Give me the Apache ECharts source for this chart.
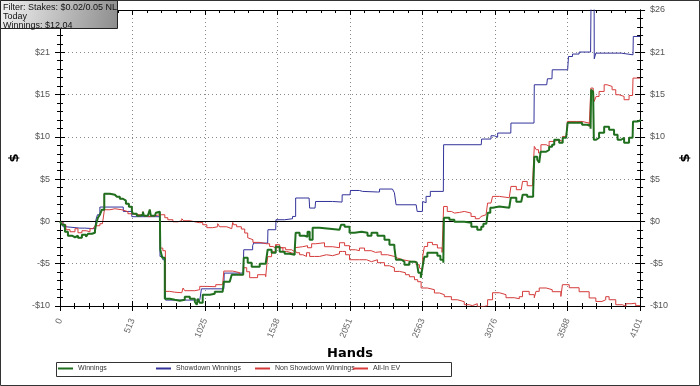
<!DOCTYPE html>
<html><head><meta charset="utf-8">
<script src="https://cdn.jsdelivr.net/npm/echarts@6/dist/echarts.min.js"></script>
<style>html,body{margin:0;padding:0;background:#fff}#c{width:700px;height:386px}</style>
</head><body><div id="c"></div>
<script>
// ---------- data (hands, dollars) ----------
const seriesNames = ['Winnings', 'Showdown Winnings', 'Non Showdown Winnings', 'All-In EV'];
const xTickLabels = ['0', '513', '1025', '1538', '2051', '2563', '3076', '3588', '4101'];
const yTickLabels = ['-$10', '-$5', '$0', '$5', '$10', '$15', '$21', '$26'];
const infoLines = ['Filter: Stakes: $0.02/0.05 NL', 'Today', 'Winnings: $12.04'];

const winningsHands = [0,14,35,56,85,106,127,155,184,198,226,247,254,268,282,296,313,353,388,402,423,445,466,487,508,515,543,565,586,593,621,635,642,671,678,692,706,709,723,741,776,812,847,882,918,953,967,974,988,1009,1059,1094,1150,1158,1200,1214,1270,1295,1299,1327,1355,1412,1454,1468,1496,1525,1553,1588,1623,1659,1666,1694,1729,1750,1765,1786,1835,1906,1976,1987,2012,2047,2082,2132,2174,2202,2244,2294,2329,2364,2375,2414,2435,2470,2506,2523,2534,2551,2562,2576,2597,2647,2668,2689,2710,2714,2753,2788,2837,2858,2908,2950,2978,2993,3014,3024,3042,3060,3106,3176,3187,3226,3261,3271,3303,3345,3353,3374,3388,3398,3437,3458,3479,3494,3529,3554,3578,3589,3649,3691,3727,3751,3755,3769,3774,3790,3811,3847,3882,3917,3942,3967,3988,4023,4048,4051,4080,4101];
const winningsValues = [0,-0.39,-1.22,-1.69,-1.87,-1.69,-1.93,-1.57,-1.81,-1.45,-1.34,-1.10,-0.39,0.44,0.79,1.39,3.27,3.16,3.16,2.92,2.68,2.45,2.09,1.74,1.26,0.91,0.67,0.79,1.15,0.67,0.56,1.39,0.67,0.67,1.03,1.15,0.67,-3.35,-4.29,-9.14,-9.26,-9.37,-9.26,-8.90,-9.14,-9.49,-9.85,-9.14,-9.61,-8.67,-8.55,-8.31,-8.19,-7.13,-6.90,-6.30,-6.30,-6.07,-4.29,-4.88,-5.35,-5.00,-5.12,-3.35,-3.70,-2.99,-3.58,-3.82,-3.94,-3.58,-1.34,-1.69,-1.81,-1.22,-2.16,-0.74,-0.86,-0.98,-0.98,-0.39,-0.63,-1.34,-1.22,-1.34,-1.69,-1.34,-1.69,-2.16,-2.75,-3.11,-4.53,-4.76,-5.12,-4.76,-4.88,-4.76,-6.07,-6.66,-5.47,-4.17,-3.70,-3.70,-4.06,-4.53,-4.88,0.44,0.20,-0.04,-0.04,-0.15,-0.63,-0.98,-0.63,-0.27,-0.27,1.03,1.62,1.77,1.62,1.50,2.80,2.33,2.56,3.16,2.92,3.39,7.65,7.29,6.94,8.24,8.47,8.83,9.07,9.66,9.30,9.89,10.01,11.67,11.67,11.43,11.31,10.96,15.57,15.33,9.66,9.89,10.49,11.19,10.84,10.25,9.66,9.89,9.30,9.89,9.89,11.82,11.90,12.04];

const showdownHands = [0,21,42,141,176,247,254,265,282,447,448,506,508,706,707,727,746,988,1000,1158,1161,1295,1299,1362,1369,1468,1470,1525,1527,1588,1644,1666,1761,1765,1803,1807,1927,1941,1994,1995,2050,2054,2117,2139,2244,2259,2350,2364,2376,2518,2525,2562,2564,2576,2588,2618,2710,2712,2978,2981,3047,3070,3094,3187,3188,3351,3353,3441,3446,3478,3480,3589,3595,3623,3670,3751,3755,3776,3777,3788,3967,3976,4051,4053,4101];
const showdownValues = [0,-0.63,-0.79,-0.79,-0.86,-0.79,0.20,0.79,1.70,1.70,1.18,1.18,0.56,0.56,-4.14,-4.53,-9.30,-9.26,-7.97,-7.97,-6.11,-6.11,-3.35,-2.87,-2.56,-2.56,-0.98,-0.98,0.20,0.32,0.59,2.77,2.86,1.58,1.58,2.36,2.36,2.29,2.29,3.15,3.15,3.66,3.55,3.48,3.48,3.83,3.83,3.40,1.97,1.97,1.18,1.18,2.36,2.21,2.96,3.55,3.55,9.07,9.07,9.74,10.13,9.96,10.45,10.45,11.63,11.63,16.16,16.16,16.87,16.87,17.93,17.93,19.50,19.79,20.03,20.03,27.5,27.5,19.23,19.90,19.82,19.70,19.70,21.87,21.87];

const nonShowdownHands = [0,21,42,71,106,127,155,184,212,233,247,282,300,314,353,388,438,480,508,565,600,635,671,706,741,762,798,833,861,875,918,953,988,1009,1038,1080,1115,1129,1179,1214,1221,1228,1249,1282,1306,1327,1341,1364,1412,1459,1482,1505,1525,1532,1576,1602,1635,1659,1673,1694,1717,1743,1765,1800,1835,1884,1927,1976,1997,2019,2047,2117,2167,2202,2244,2294,2329,2364,2400,2442,2470,2506,2529,2553,2597,2647,2682,2717,2767,2809,2858,2894,2915,2950,3000,3023,3058,3106,3153,3211,3247,3270,3317,3353,3365,3388,3437,3480,3541,3552,3600,3670,3741,3788,3832,3858,3882,3929,3976,4001,4037,4070,4101];
const nonShowdownValues = [0,-0.39,-0.98,-1.22,-0.86,-1.34,-1.10,-1.22,-0.86,-0.74,-0.51,-0.27,-0.15,1.38,1.50,1.38,1.15,0.91,0.79,0.67,0.56,0.67,0.79,0.79,0.44,0.20,-0.04,0.08,0.32,0.08,-0.04,-0.15,-0.12,-0.39,-0.74,-0.63,-0.27,-0.63,-0.86,-0.74,-0.12,-0.39,-0.63,-0.90,-1.37,-1.93,-2.16,-2.48,-2.64,-2.64,-2.96,-3.14,-2.75,-3.11,-3.55,-3.70,-3.82,-3.35,-3.70,-3.94,-4.14,-3.70,-4.14,-4.14,-3.94,-4.05,-3.82,-3.55,-3.55,-3.94,-4.53,-4.53,-4.76,-4.53,-4.88,-5.24,-5.47,-5.91,-6.06,-6.30,-6.54,-6.89,-7.13,-7.87,-8.07,-8.46,-8.66,-8.90,-9.26,-9.49,-9.85,-9.96,-9.73,-10.05,-9.96,-9.26,-8.43,-8.66,-9.02,-9.14,-8.90,-8.27,-8.66,-9.02,-8.27,-7.87,-8.07,-8.31,-8.87,-7.48,-7.84,-8.31,-9.05,-9.46,-9.26,-8.90,-9.26,-9.85,-10.05,-9.73,-9.67,-9.96,-9.91];

const allInHands = [0,14,35,56,85,106,127,155,184,198,226,247,254,268,282,296,313,353,388,402,423,445,466,487,508,515,543,565,586,593,621,635,642,671,678,692,706,709,727,745,776,812,861,870,882,953,988,1030,1101,1150,1158,1221,1270,1295,1299,1320,1341,1397,1454,1468,1496,1525,1553,1595,1637,1659,1673,1715,1750,1779,1807,1870,1927,1976,2012,2047,2089,2117,2153,2200,2230,2271,2315,2364,2386,2423,2484,2518,2541,2551,2564,2576,2599,2633,2668,2701,2712,2738,2767,2788,2823,2858,2906,2936,2964,2976,2988,3012,3023,3047,3058,3106,3176,3188,3226,3261,3270,3303,3340,3353,3367,3383,3400,3437,3458,3494,3529,3552,3578,3587,3649,3691,3741,3753,3769,3776,3790,3811,3847,3868,3903,3929,3952,3988,4023,4048,4051,4101];
const allInValues = [0,-0.39,-1.22,-1.69,-1.87,-1.69,-1.93,-1.57,-1.81,-1.45,-1.34,-1.10,-0.39,0.44,0.79,1.39,3.27,3.16,3.16,2.92,2.68,2.45,2.09,1.74,1.26,0.91,0.67,0.79,1.15,0.67,0.56,1.39,0.67,0.67,1.03,1.15,0.67,-3.15,-3.46,-8.27,-8.37,-8.43,-8.31,-7.87,-8.19,-8.07,-7.68,-7.72,-7.48,-7.25,-5.87,-6.06,-6.30,-6.18,-5.47,-5.95,-6.65,-6.30,-6.54,-4.17,-3.58,-2.75,-3.11,-3.35,-3.58,-3.11,-2.99,-2.87,-3.11,-2.64,-2.52,-2.99,-3.11,-2.52,-2.87,-3.35,-3.46,-3.15,-3.46,-3.66,-3.58,-3.94,-4.14,-4.33,-4.53,-4.73,-4.73,-5.12,-5.51,-5.71,-4.14,-2.96,-2.48,-2.75,-3.14,-3.66,1.77,1.18,0.99,1.06,1.18,0.99,0.59,0.32,0.12,0.59,0.79,0.59,2.17,2.36,2.96,2.80,2.77,4.14,3.75,3.98,4.73,4.22,4.34,8.87,8.48,8.09,9.07,8.89,9.46,9.66,9.46,10.05,10.25,11.82,11.82,11.63,11.23,15.77,15.57,14.18,14.78,15.37,16.16,15.96,15.57,14.98,14.78,14.39,14.89,14.78,16.95,16.95];

// ---------- chart ----------
const xMin = 0, xMax = 4101, xInterval = 4101 / 8;
const yMin = -10, yMax = 25, yInterval = 5;

function zip(xs, ys) {
  const n = Math.min(xs.length, ys.length), out = [];
  for (let i = 0; i < n; i++) out.push([xs[i], ys[i]]);
  return out;
}
const FONT = 'Liberation Sans, Arial, sans-serif';
const xFmt = v => xTickLabels[Math.round((v - xMin) / xInterval)] ?? '';
const yFmt = v => yTickLabels[Math.round((v - yMin) / yInterval)] ?? '';
const black = { color: '#000', width: 1 };
const nameStyle = { fontFamily: 'DejaVu Sans, sans-serif', fontWeight: 'bold', fontSize: 13, color: '#000' };

function xAx(pos, inside, labels, extra) {
  return Object.assign({
    type: 'value', position: pos, min: xMin, max: xMax, interval: xInterval,
    axisLine: { show: true, onZero: false, lineStyle: black },
    axisTick: { show: true, inside: inside, length: 5, lineStyle: black },
    minorTick: { show: true, splitNumber: 5, length: 3, lineStyle: black },
    axisLabel: labels ? { show: true, interval: 0, rotate: 68, margin: 13, formatter: xFmt,
      fontFamily: FONT, fontSize: 9, color: '#666', showMinLabel: true, showMaxLabel: true } : { show: false },
    splitLine: { show: false }
  }, extra || {});
}
function yAx(pos, inside, labels, extra) {
  return Object.assign({
    type: 'value', position: pos, min: yMin, max: yMax, interval: yInterval,
    axisLine: { show: true, onZero: false, lineStyle: black },
    axisTick: { show: true, inside: inside, length: 5, lineStyle: black },
    minorTick: { show: true, splitNumber: 5, length: 3, lineStyle: black },
    axisLabel: labels ? { show: true, margin: 10, formatter: yFmt, fontFamily: FONT, fontSize: 9, color: '#555' } : { show: false },
    splitLine: { show: false }
  }, extra || {});
}
const dotted = { show: true, lineStyle: { color: '#8a8a8a', type: [1, 3], width: 1 } };

const colors = ['#1f6f1f', '#33339a', '#d43a3a', '#d83c3c'];
const datas = [zip(winningsHands, winningsValues), zip(showdownHands, showdownValues),
               zip(nonShowdownHands, nonShowdownValues), zip(allInHands, allInValues)];

const series = seriesNames.map((name, i) => ({
  name, type: 'line', data: datas[i], step: 'end', showSymbol: false, symbol: 'none',
  clip: true, z: i === 0 ? 5 : 3,
  lineStyle: { color: colors[i], width: i === 0 ? 2 : 1 },
  itemStyle: { color: colors[i] },
  emphasis: { disabled: true }
}));
series[1].markLine = {
  silent: true, symbol: 'none', animation: false, label: { show: false },
  lineStyle: { color: '#000', type: 'solid', width: 1 },
  data: [{ yAxis: 0 }]
};

const legendLeft = [58, 156, 255, 353];
const legends = seriesNames.map((name, i) => ({
  data: [name], left: legendLeft[i], top: 365, icon: 'rect', itemWidth: 15, itemHeight: 2,
  padding: 0, itemGap: 0, selectedMode: false,
  textStyle: { fontFamily: FONT, fontSize: 7, color: '#333', padding: [0, 0, 0, 0] }
}));

const option = {
  animation: false,
  backgroundColor: '#fff',
  grid: { left: 60, right: 59, top: 10, bottom: 80, containLabel: false },
  xAxis: [
    xAx('bottom', false, true, { splitLine: dotted, name: 'Hands', nameLocation: 'middle', nameGap: 40, nameTextStyle: nameStyle }),
    xAx('bottom', true, false),
    xAx('top', true, false)
  ],
  yAxis: [
    yAx('left', false, true, { splitLine: dotted, name: '$', nameLocation: 'middle', nameGap: 31, nameRotate: 90, nameTextStyle: nameStyle }),
    yAx('left', true, false),
    yAx('right', false, true, { name: '$', nameLocation: 'middle', nameGap: 32, nameRotate: 90, nameTextStyle: nameStyle }),
    yAx('right', true, false)
  ],
  legend: legends,
  series,
  graphic: [
    { type: 'rect', z: 1, silent: true, shape: { x: 0.5, y: 0.5, width: 699, height: 385 },
      style: { fill: 'none', stroke: '#333', lineWidth: 1 } },
    { type: 'rect', z: 1, silent: true, shape: { x: 56.5, y: 362.5, width: 395, height: 14 },
      style: { fill: 'none', stroke: '#333', lineWidth: 1 } },
    { type: 'rect', zlevel: 5, z: 100, silent: true, shape: { x: 0.5, y: 0.5, width: 117, height: 28 },
      style: { fill: new echarts.graphic.LinearGradient(0, 0, 1, 1, [
        { offset: 0, color: '#f2f2f2' }, { offset: 1, color: '#8c8c8c' }]), stroke: '#222', lineWidth: 1 } },
    { type: 'text', zlevel: 5, z: 101, silent: true, style: { x: 3, y: 2.5, text: infoLines.join('\n'), fontFamily: FONT, fontSize: 9,
      lineHeight: 9.2, fill: '#111' } }
  ]
};
const chart = echarts.init(document.getElementById('c'), null, { renderer: 'canvas' });
chart.setOption(option);
</script></body></html>
